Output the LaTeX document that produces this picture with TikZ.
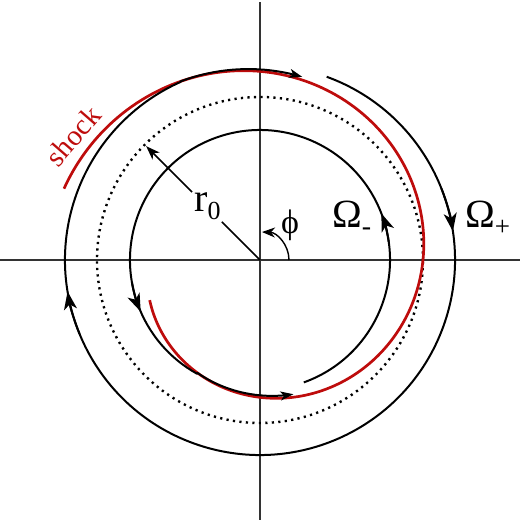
\documentclass[tikz,border=0pt]{standalone}
\usepackage{fontspec}
\setmainfont{Liberation Serif}
\usetikzlibrary{arrows.meta}
\definecolor{shockred}{RGB}{190,12,12}
\begin{document}
\begin{tikzpicture}[x=1pt,y=1pt,
  axis/.style={line width=1.1pt, draw=black!80},
  flow/.style={line width=2pt, line join=round},
  shockline/.style={line width=2.7pt, draw=shockred},
  dotc/.style={line width=2.4pt, dash pattern=on 2.2pt off 4.3pt},
  midtip/.style={flow, -{Stealth[length=18pt,width=13pt,inset=5pt]}},
  endtip/.style={-{Stealth[length=13pt,width=9pt,inset=3.5pt]}},
  lbl/.style={font=\fontsize{40}{44}\selectfont, inner sep=0pt},
]
\useasboundingbox (-260,-260) rectangle (260,260);
\coordinate (O) at (0,0);
\draw[axis] (-260,0) -- (260,0);
\draw[axis] (0,-260) -- (0,258);
\draw[dotc] (O) circle[radius=163];
% shock spiral
\draw[shockline] plot[domain=-160:160, samples=120, smooth] ({(163+0.285*\x)*cos(\x)},{(163+0.285*\x)*sin(\x)});
% outer flow (clockwise)
\draw[flow, endtip] (70:195) arc[start angle=70, end angle=-246, radius=195]
  -- plot[domain=114:77, samples=20] ({(163+0.285*\x+3*(114-\x)/37)*cos(\x)},{(163+0.285*\x+3*(114-\x)/37)*sin(\x)});
% inner flow (counter-clockwise)
\draw[flow, endtip] (-70.3:130) arc[start angle=-70.3, end angle=241, radius=130]
  -- plot[domain=-119:-76, samples=20] ({(163+0.285*\x-3*(\x+119)/43)*cos(\x)},{(163+0.285*\x-3*(\x+119)/43)*sin(\x)});
% arrowheads
\draw[midtip] (8:130) arc[start angle=8,end angle=21,radius=130];
\draw[midtip] (190:130) arc[start angle=190,end angle=203.4,radius=130];
\draw[midtip] (21.5:195) arc[start angle=21.5,end angle=8.5,radius=195];
\draw[midtip] (202.3:195) arc[start angle=202.3,end angle=189.3,radius=195];
% r0
\coordinate (r0a) at (135:54);
\coordinate (r0b) at (135:96);
\coordinate (r0tip) at (135:161);
\draw[line width=1.5pt] (O) -- (r0a);
\draw[line width=1.5pt, -{Stealth[length=14pt,width=10pt,inset=4pt]}] (r0b) -- (r0tip);
\node[lbl, anchor=base west] (r0) at (-66,48.3) {r\raisebox{-8pt}{\fontsize{26}{26}\selectfont 0}};
% phi
\draw[line width=1.4pt, -{Stealth[length=13pt,width=10pt,inset=4pt]}] (29,0) arc[start angle=0,end angle=88,radius=28];
\node[lbl, font=\fontsize{34}{38}\selectfont] (phi) at (30,35) {ϕ};
% Omegas
\node[lbl, anchor=base west] (om) at (72,33) {Ω\raisebox{-8pt}{\fontsize{28}{28}\selectfont -}};
\node[lbl, anchor=base west] (op) at (205,33) {Ω\raisebox{-8pt}{\fontsize{27}{27}\selectfont +}};
% shock label
\node[text=shockred, font=\fontsize{29}{32}\selectfont, rotate=49, inner sep=0pt] (shock) at (-187,124) {shock};
\end{tikzpicture}
\end{document}
